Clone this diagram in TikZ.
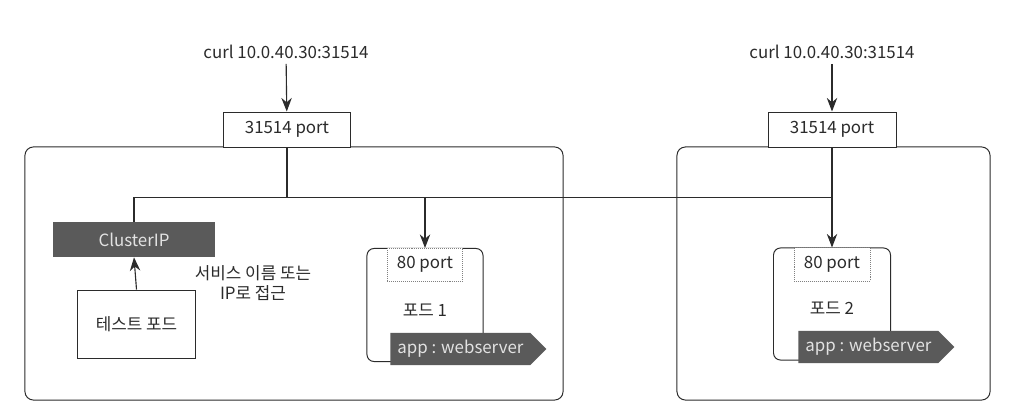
\documentclass[tikz,border=0pt]{standalone}
\usepackage{fontspec}
\setmainfont{Noto Sans CJK KR}
\usepackage{xcolor}
\usepackage{tikz}
\usetikzlibrary{positioning,arrows.meta,shapes.symbols,calc}

\definecolor{inkgray}{HTML}{2B2B2B}
\definecolor{tagfill}{HTML}{5A5A5A}
\definecolor{tagtext}{HTML}{E2E2E2}

\begin{document}
\begin{tikzpicture}[
  x=0.025cm, y=0.025cm,
  font=\fontsize{12}{14}\selectfont, text=inkgray,
  frame/.style={draw=inkgray, rounded corners=6pt, line width=0.7pt, minimum height=6.325cm},
  portbox/.style={draw=inkgray, fill=white, line width=0.7pt, minimum width=3.15cm, minimum height=0.875cm},
  darkbox/.style={fill=tagfill, text=tagtext, minimum width=4.05cm, minimum height=0.875cm},
  plainbox/.style={draw=inkgray, line width=0.7pt, minimum width=2.925cm, minimum height=1.7cm},
  podbox/.style={draw=inkgray, rounded corners=5pt, line width=0.7pt, minimum width=2.9cm, minimum height=2.825cm},
  innerport/.style={draw=gray, densely dotted, line width=0.4pt, fill=white, minimum width=1.875cm, minimum height=0.825cm, anchor=north},
  tag/.style={signal, signal to=east, signal pointer angle=90, fill=tagfill, text=tagtext, minimum width=3.85cm, minimum height=0.8cm, anchor=west, inner xsep=5pt},
  line/.style={draw=inkgray, line width=0.8pt},
  arrow/.style={line, -{Stealth[length=3.4mm, width=2.6mm]}}
]
\useasboundingbox (0,0) rectangle (1024,416);

% two nodes
\node[frame, minimum width=13.45cm] (node1) at (294,142.5) {};
\node[frame, minimum width=7.825cm] (node2) at (833.5,142.5) {};

\node[portbox] (port1) at (287,286.5) {31514 port};
\node[portbox, minimum width=3.2cm] (port2) at (832,286.5) {31514 port};
\node (curl1) at (286,364) {curl 10.0.40.30:31514};
\node (curl2) at (832,364) {curl 10.0.40.30:31514};

\node[darkbox] (cip) at (134,176.5) {ClusterIP};
\node[plainbox] (test) at (136.5,92) {테스트 포드};
\node[align=center] (access) at (253,133) {서비스 이름 또는\\IP로 접근};

\node[podbox] (pod1) at (425,111) {};
\node[innerport] (p80a) at (pod1.north) {80 port};
\node (pod1name) at (425,106) {포드 1};
\node[tag] (tag1) at (390,67) {app : webserver};

\node[podbox, minimum width=2.925cm, minimum height=2.8cm] (pod2) at (832,112) {};
\node[innerport, minimum width=1.9cm] (p80b) at (pod2.north) {80 port};
\node (pod2name) at (832,108) {포드 2};
\node[tag] (tag2) at (798,69) {app : webserver};

\coordinate (hub1) at ($(port1.south)+(0,-50)$);

\draw[arrow] (curl1) -- (port1);
\draw[arrow] (curl2) -- (port2);
\draw[line] (port1.south) -- (hub1);
\draw[line] (cip.north) |- (pod2.north |- hub1);
\draw[arrow] (hub1 -| pod1.north) -- (pod1.north);
\draw[arrow] (port2.south) -- (pod2.north);
\draw[arrow] (test.north) -- (cip.south);
\end{tikzpicture}
\end{document}
